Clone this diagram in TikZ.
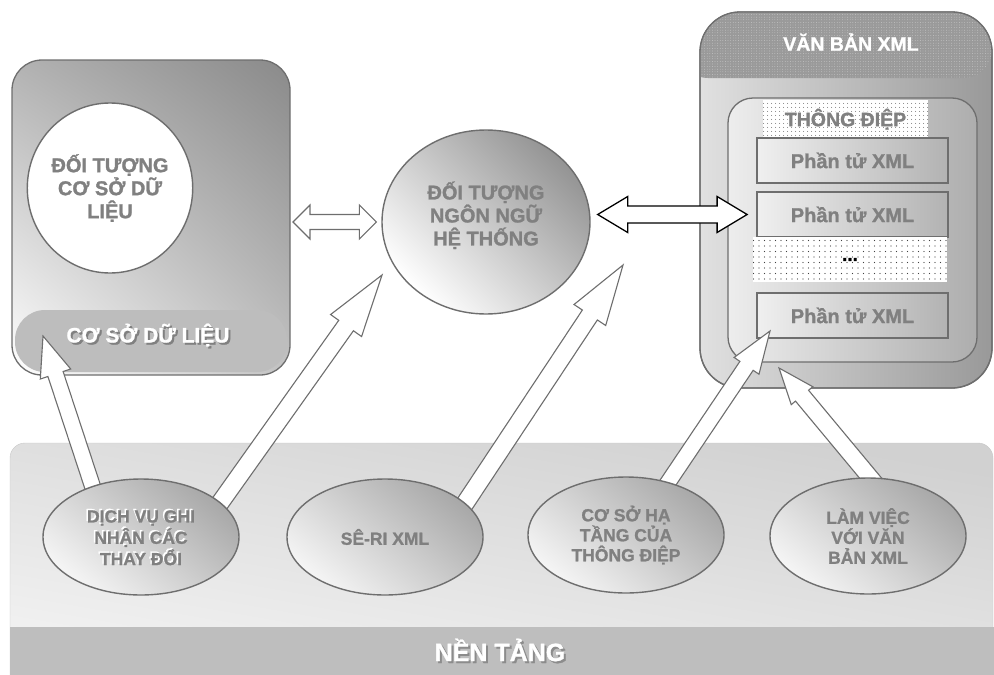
\documentclass[tikz,border=0pt]{standalone}
\usepackage{fontspec}
\setmainfont{Liberation Sans}[BoldFeatures={FakeBold=1.2}]
\usetikzlibrary{calc}
\usetikzlibrary{positioning}
\usetikzlibrary{shapes.geometric}
\usetikzlibrary{shadings}
\usetikzlibrary{patterns.meta}
\definecolor{TextGray}{HTML}{808080}
\definecolor{EdgeGray}{HTML}{6E6E6E}
\definecolor{BandGray}{HTML}{BEBEBE}
\definecolor{MeshGray}{HTML}{9A9A9A}

\newcommand{\shadowline}[4]{\makebox[0pt][l]{\hspace*{#1}\raisebox{#2}{\textcolor{#3}{#4}}}#4}

\newcommand{\blockarrow}[6][]{%
  \coordinate (arrowbase) at ($(#3)!#6!(#2)$);
  \draw[hollowarrow,#1] ($(#2)!#4!90:(#3)$)
    -- ($(arrowbase)!#4!-90:(#2)$) -- ($(arrowbase)!#5!-90:(#2)$)
    -- (#3)
    -- ($(arrowbase)!#5!90:(#2)$) -- ($(arrowbase)!#4!90:(#2)$)
    -- ($(#2)!#4!-90:(#3)$) -- cycle;}

\newcommand{\doublearrow}[6][]{%
  \coordinate (arrowtail) at ($(#2)!#6!(#3)$);
  \coordinate (arrowbase) at ($(#3)!#6!(#2)$);
  \draw[hollowarrow,#1] (#2)
    -- ($(arrowtail)!#5!90:(#3)$) -- ($(arrowtail)!#4!90:(#3)$)
    -- ($(arrowbase)!#4!-90:(#2)$) -- ($(arrowbase)!#5!-90:(#2)$)
    -- (#3)
    -- ($(arrowbase)!#5!90:(#2)$) -- ($(arrowbase)!#4!90:(#2)$)
    -- ($(arrowtail)!#4!-90:(#3)$) -- ($(arrowtail)!#5!-90:(#3)$)
    -- cycle;}

\tikzset{
  panel/.style={draw=EdgeGray, line width=1.3pt, rounded corners=#1, outer sep=0pt, inner sep=0pt},
  objellipse/.style={ellipse, draw=EdgeGray, line width=1.4pt, inner sep=0pt, align=center,
    text=TextGray, font=\bfseries\fontsize{20}{23}\selectfont},
  svcellipse/.style={ellipse, draw=EdgeGray, line width=1.4pt, inner sep=0pt, align=center,
    minimum width=196pt, minimum height=116pt, top color=black!34, bottom color=white!96!black,
    shading angle=-40, text=TextGray, font=\bfseries\fontsize{17.5}{20}\selectfont},
  xmlitem/.style={rectangle, draw=EdgeGray, line width=1.8pt, minimum width=191pt, minimum height=45pt,
    left color=white!94!black, right color=black!30, text=TextGray,
    font=\bfseries\fontsize{20}{23}\selectfont},
  dotfield/.style={preaction={fill=white}, pattern={Dots[radius=0.55pt, distance=#1]},
    pattern color=black!75, inner sep=0pt},
  hollowarrow/.style={fill=white, draw=EdgeGray, line width=1.1pt, line join=miter},
  bandlabel/.style={text=white, font=\bfseries\fontsize{#1}{#1}\selectfont},
}

\begin{document}
\begin{tikzpicture}[x=1pt, y=-1pt]
  \useasboundingbox (0,0) rectangle (994,675);

  % platform
  \shade[rounded corners=15pt, draw=black!22, top color=black!18, bottom color=black!4, shading angle=-10]
    (10,443) rectangle (993,700);
  \fill[BandGray] (10,627) rectangle (994,680);
  \node[bandlabel=25] (platformlabel) at (500,651) {\shadowline{2pt}{-2pt}{black!45}{NỀN TẢNG}};

  % database
  \node[panel=30pt, minimum width=278pt, minimum height=315pt,
    upper left=black!30, upper right=black!46, lower left=white, lower right=black!24] (dbbox) at (151,217.5) {};
  \fill[black!26, rounded corners=30pt] (15,310) rectangle (287,372);
  \node[bandlabel=21] (dblabel) at (148,336) {\shadowline{2pt}{-2pt}{black!50}{CƠ SỞ DỮ LIỆU}};
  \node[objellipse, fill=white, minimum width=124pt, minimum height=170pt] (dbobj) at (110,188)
    {ĐỐI TƯỢNG\\CƠ SỞ DỮ\\LIỆU};

  % xml document
  \node[panel=40pt, minimum width=292pt, minimum height=376pt, left color=black!12, right color=black!40] (xmldoc) at (846,200) {};
  \begin{scope}
    \clip[rounded corners=40pt] (xmldoc.north west) rectangle (xmldoc.south east);
    \fill[MeshGray, rounded corners=28pt,
      postaction={pattern={Dots[radius=0.45pt, distance=2.6pt]}, pattern color=black!22}]
      (680,0) rectangle (992,78);
  \end{scope}
  \draw[EdgeGray, line width=1.3pt, rounded corners=40pt] (xmldoc.north west) rectangle (xmldoc.south east);
  \node[bandlabel=19.5] (doclabel) at (851,42) {VĂN BẢN XML};

  \node[panel=25pt, minimum width=249pt, minimum height=264pt, left color=black!7, right color=black!32] (msgframe) at (852.5,230) {};
  \node[dotfield=4pt, minimum width=165pt, minimum height=37pt, text=TextGray,
    font=\bfseries\fontsize{19.5}{19.5}\selectfont] (msglabel) at (845.5,118.5)
    {\shadowline{-1.5pt}{1.5pt}{white}{THÔNG ĐIỆP}};
  \node[xmlitem] (item1) at (852.5,160.5) {Phần tử XML};
  \node[xmlitem] (item2) at (852.5,214.5) {Phần tử XML};
  \node[dotfield=5.5pt, minimum width=194pt, minimum height=45pt,
    font=\bfseries\fontsize{19}{19}\selectfont] (itemgap) at (850,259.5) {...};
  \node[xmlitem] (item3) at (852.5,315.5) {Phần tử XML};

  % language object
  \node[objellipse, minimum width=208pt, minimum height=184pt, top color=black!42, bottom color=white,
    shading angle=-45] (langobj) at (486,222) {ĐỐI TƯỢNG\\NGÔN NGỮ\\HỆ THỐNG\\[-6pt]};

  \coordinate (dbport) at ($(dbbox.east |- langobj.west)+(3,0)$);
  \coordinate (langport) at ($(langobj.west)+(-5,0)$);
  \coordinate (langout) at ($(langobj.east |- item2.west)+(7,0)$);
  \coordinate (itemport) at ($(item2.west)+(-9,0)$);
  \doublearrow{dbport}{langport}{7.5pt}{17pt}{17pt}
  \doublearrow[draw=black, line width=1.3pt]{langout}{itemport}{8.5pt}{18pt}{30pt}

  % feeding arrows
  \coordinate (feedA) at (97,500);   \coordinate (dbtip) at (43,336);
  \coordinate (feedB) at (215,510);  \coordinate (langtipL) at (382,275);
  \coordinate (feedC) at (462,508);  \coordinate (langtipR) at (623,265);
  \coordinate (feedD) at (665,487);  \coordinate (msgtip) at (770,331);
  \coordinate (feedE) at (878,487);  \coordinate (doctip) at (779,368);
  \blockarrow{feedA}{dbtip}{8pt}{16pt}{40pt}
  \blockarrow{feedB}{langtipL}{9pt}{19pt}{62pt}
  \blockarrow{feedC}{langtipR}{9pt}{19pt}{60pt}
  \blockarrow{feedD}{msgtip}{8pt}{15pt}{42pt}
  \blockarrow{feedE}{doctip}{8.5pt}{14pt}{36pt}

  % services
  \node[svcellipse] (svc1) at (141,537)
    {\shadowline{-1.5pt}{1.5pt}{white}{DỊCH VỤ GHI}\\\shadowline{-1.5pt}{1.5pt}{white}{NHẬN CÁC}\\\shadowline{-1.5pt}{1.5pt}{white}{THAY ĐỔI}};
  \node[svcellipse] (svc2) at (385,537) {SÊ-RI XML};
  \node[svcellipse] (svc3) at (626,535) {CƠ SỞ HẠ\\TẦNG CỦA\\THÔNG ĐIỆP};
  \node[svcellipse] (svc4) at (868,536) {LÀM VIỆC\\VỚI VĂN\\BẢN XML};
\end{tikzpicture}
\end{document}
